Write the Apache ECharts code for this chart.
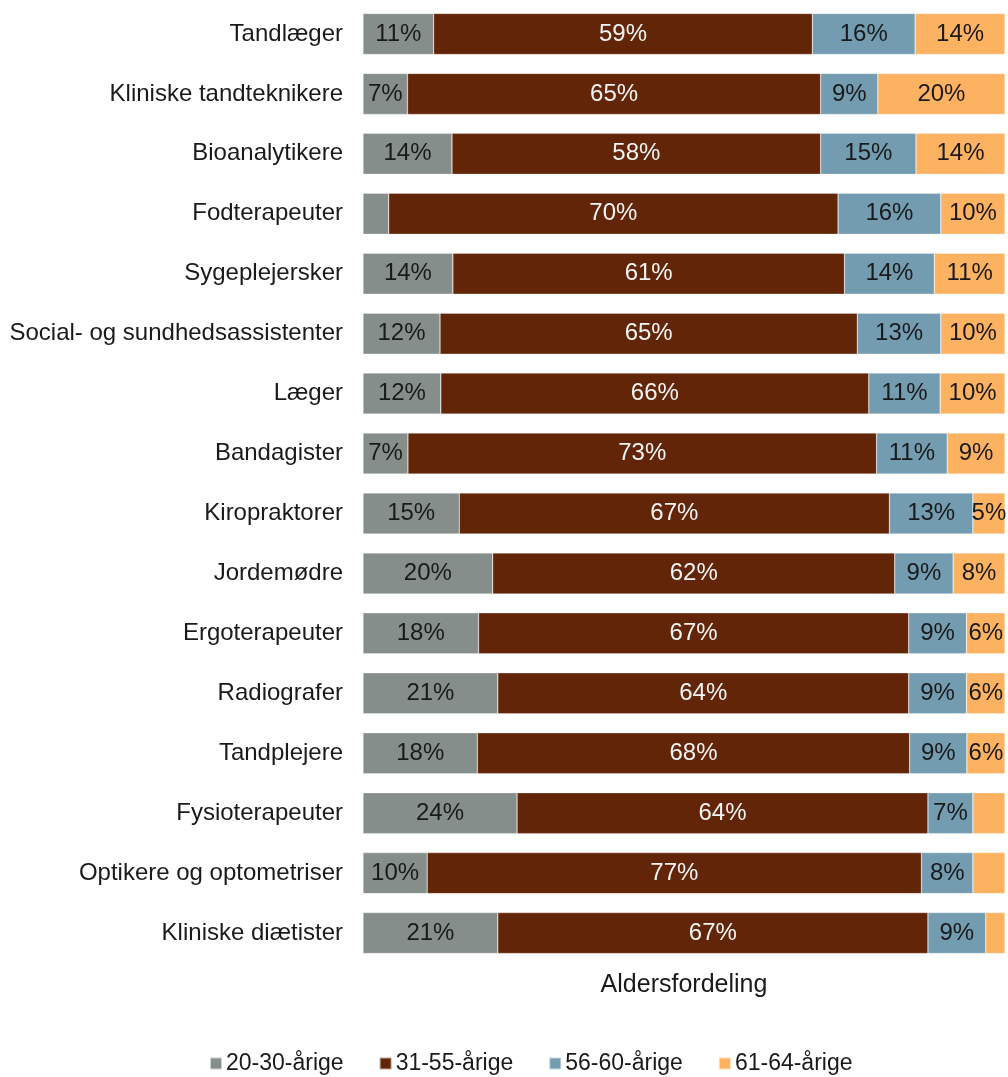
<!DOCTYPE html>
<html>
<head>
<meta charset="utf-8">
<script src="https://cdn.jsdelivr.net/npm/echarts@6/dist/echarts.min.js"></script>
<style>
  html, body { margin: 0; padding: 0; background: #fff; }
  #chart { width: 1008px; height: 1077px; }
</style>
</head>
<body>
<div id="chart"></div>
<script>
// Faggrupper, top to bottom
const categories = [
  'Tandlæger', 'Kliniske tandteknikere', 'Bioanalytikere', 'Fodterapeuter',
  'Sygeplejersker', 'Social- og sundhedsassistenter', 'Læger', 'Bandagister',
  'Kiropraktorer', 'Jordemødre', 'Ergoterapeuter', 'Radiografer',
  'Tandplejere', 'Fysioterapeuter', 'Optikere og optometriser', 'Kliniske diætister'
];
const seriesNames = ['20-30-årige', '31-55-årige', '56-60-årige', '61-64-årige'];
// Andel (%) per aldersgruppe
const age20_30 = [11, 7, 14, 4, 14, 12, 12, 7, 15, 20, 18, 21, 18, 24, 10, 21];
const age31_55 = [59, 65, 58, 70, 61, 65, 66, 73, 67, 62, 67, 64, 68, 64, 77, 67];
const age56_60 = [16, 9, 15, 16, 14, 13, 11, 11, 13, 9, 9, 9, 9, 7, 8, 9];
const age61_64 = [14, 20, 14, 10, 11, 10, 10, 9, 5, 8, 6, 6, 6, 5, 5, 3];
// Segments too narrow to carry a label: [series index, category index]
const unlabeled = [[0, 3], [3, 13], [3, 14], [3, 15]];

const groups = [age20_30, age31_55, age56_60, age61_64];
const colors = ['#868e8c', '#632507', '#739cb1', '#fdb262'];
const labelColors = ['#1a1a1a', '#f4f4f4', '#1a1a1a', '#1a1a1a'];
const font = '"Liberation Sans", Arial, sans-serif';

// 100 % stacked: each row is scaled to its own total
const rowTotals = categories.map((_, i) => groups.reduce((s, g) => s + g[i], 0));

const series = groups.map((vals, si) => ({
  name: seriesNames[si],
  type: 'bar',
  stack: 'total',
  barWidth: 41,
  itemStyle: { color: colors[si], borderColor: 'rgba(255,255,255,0.6)', borderWidth: 0.5 },
  label: {
    show: true,
    position: 'inside',
    color: labelColors[si],
    fontFamily: font,
    fontSize: 24,
    formatter: p => p.data.raw + '%'
  },
  data: vals.map((v, ci) => {
    const hide = unlabeled.some(([s, c]) => s === si && c === ci);
    const d = { value: v / rowTotals[ci] * 100, raw: v };
    if (hide) d.label = { show: false };
    return d;
  })
}));

const chart = echarts.init(document.getElementById('chart'));
chart.setOption({
  animation: false,
  textStyle: { fontFamily: font },
  grid: { left: 363, right: 3, top: 4, bottom: 114, containLabel: false, outerBoundsMode: 'none' },
  legend: {
    bottom: -3,
    left: 204,
    itemWidth: 12,
    itemHeight: 12,
    itemGap: 35,
    icon: 'rect',
    textStyle: { fontFamily: font, fontSize: 23, color: '#1a1a1a', padding: [0, 0, 0, -1] },
    data: seriesNames
  },
  xAxis: {
    type: 'value',
    min: 0,
    max: 100,
    name: 'Aldersfordeling',
    nameLocation: 'middle',
    nameGap: 10,
    nameTextStyle: { fontFamily: font, fontSize: 25, color: '#1a1a1a', verticalAlign: 'top' },
    axisLine: { show: false },
    axisTick: { show: false },
    axisLabel: { show: false },
    splitLine: { show: false }
  },
  yAxis: {
    type: 'category',
    inverse: true,
    data: categories,
    name: 'Faggruppe',
    nameLocation: 'middle',
    nameGap: 323,
    nameRotate: 90,
    nameTextStyle: { fontFamily: font, fontSize: 25, color: '#1a1a1a' },
    axisLine: { show: false },
    axisTick: { show: false },
    axisLabel: { fontFamily: font, fontSize: 24, color: '#1a1a1a', margin: 20 }
  },
  series: series
});
</script>
</body>
</html>
